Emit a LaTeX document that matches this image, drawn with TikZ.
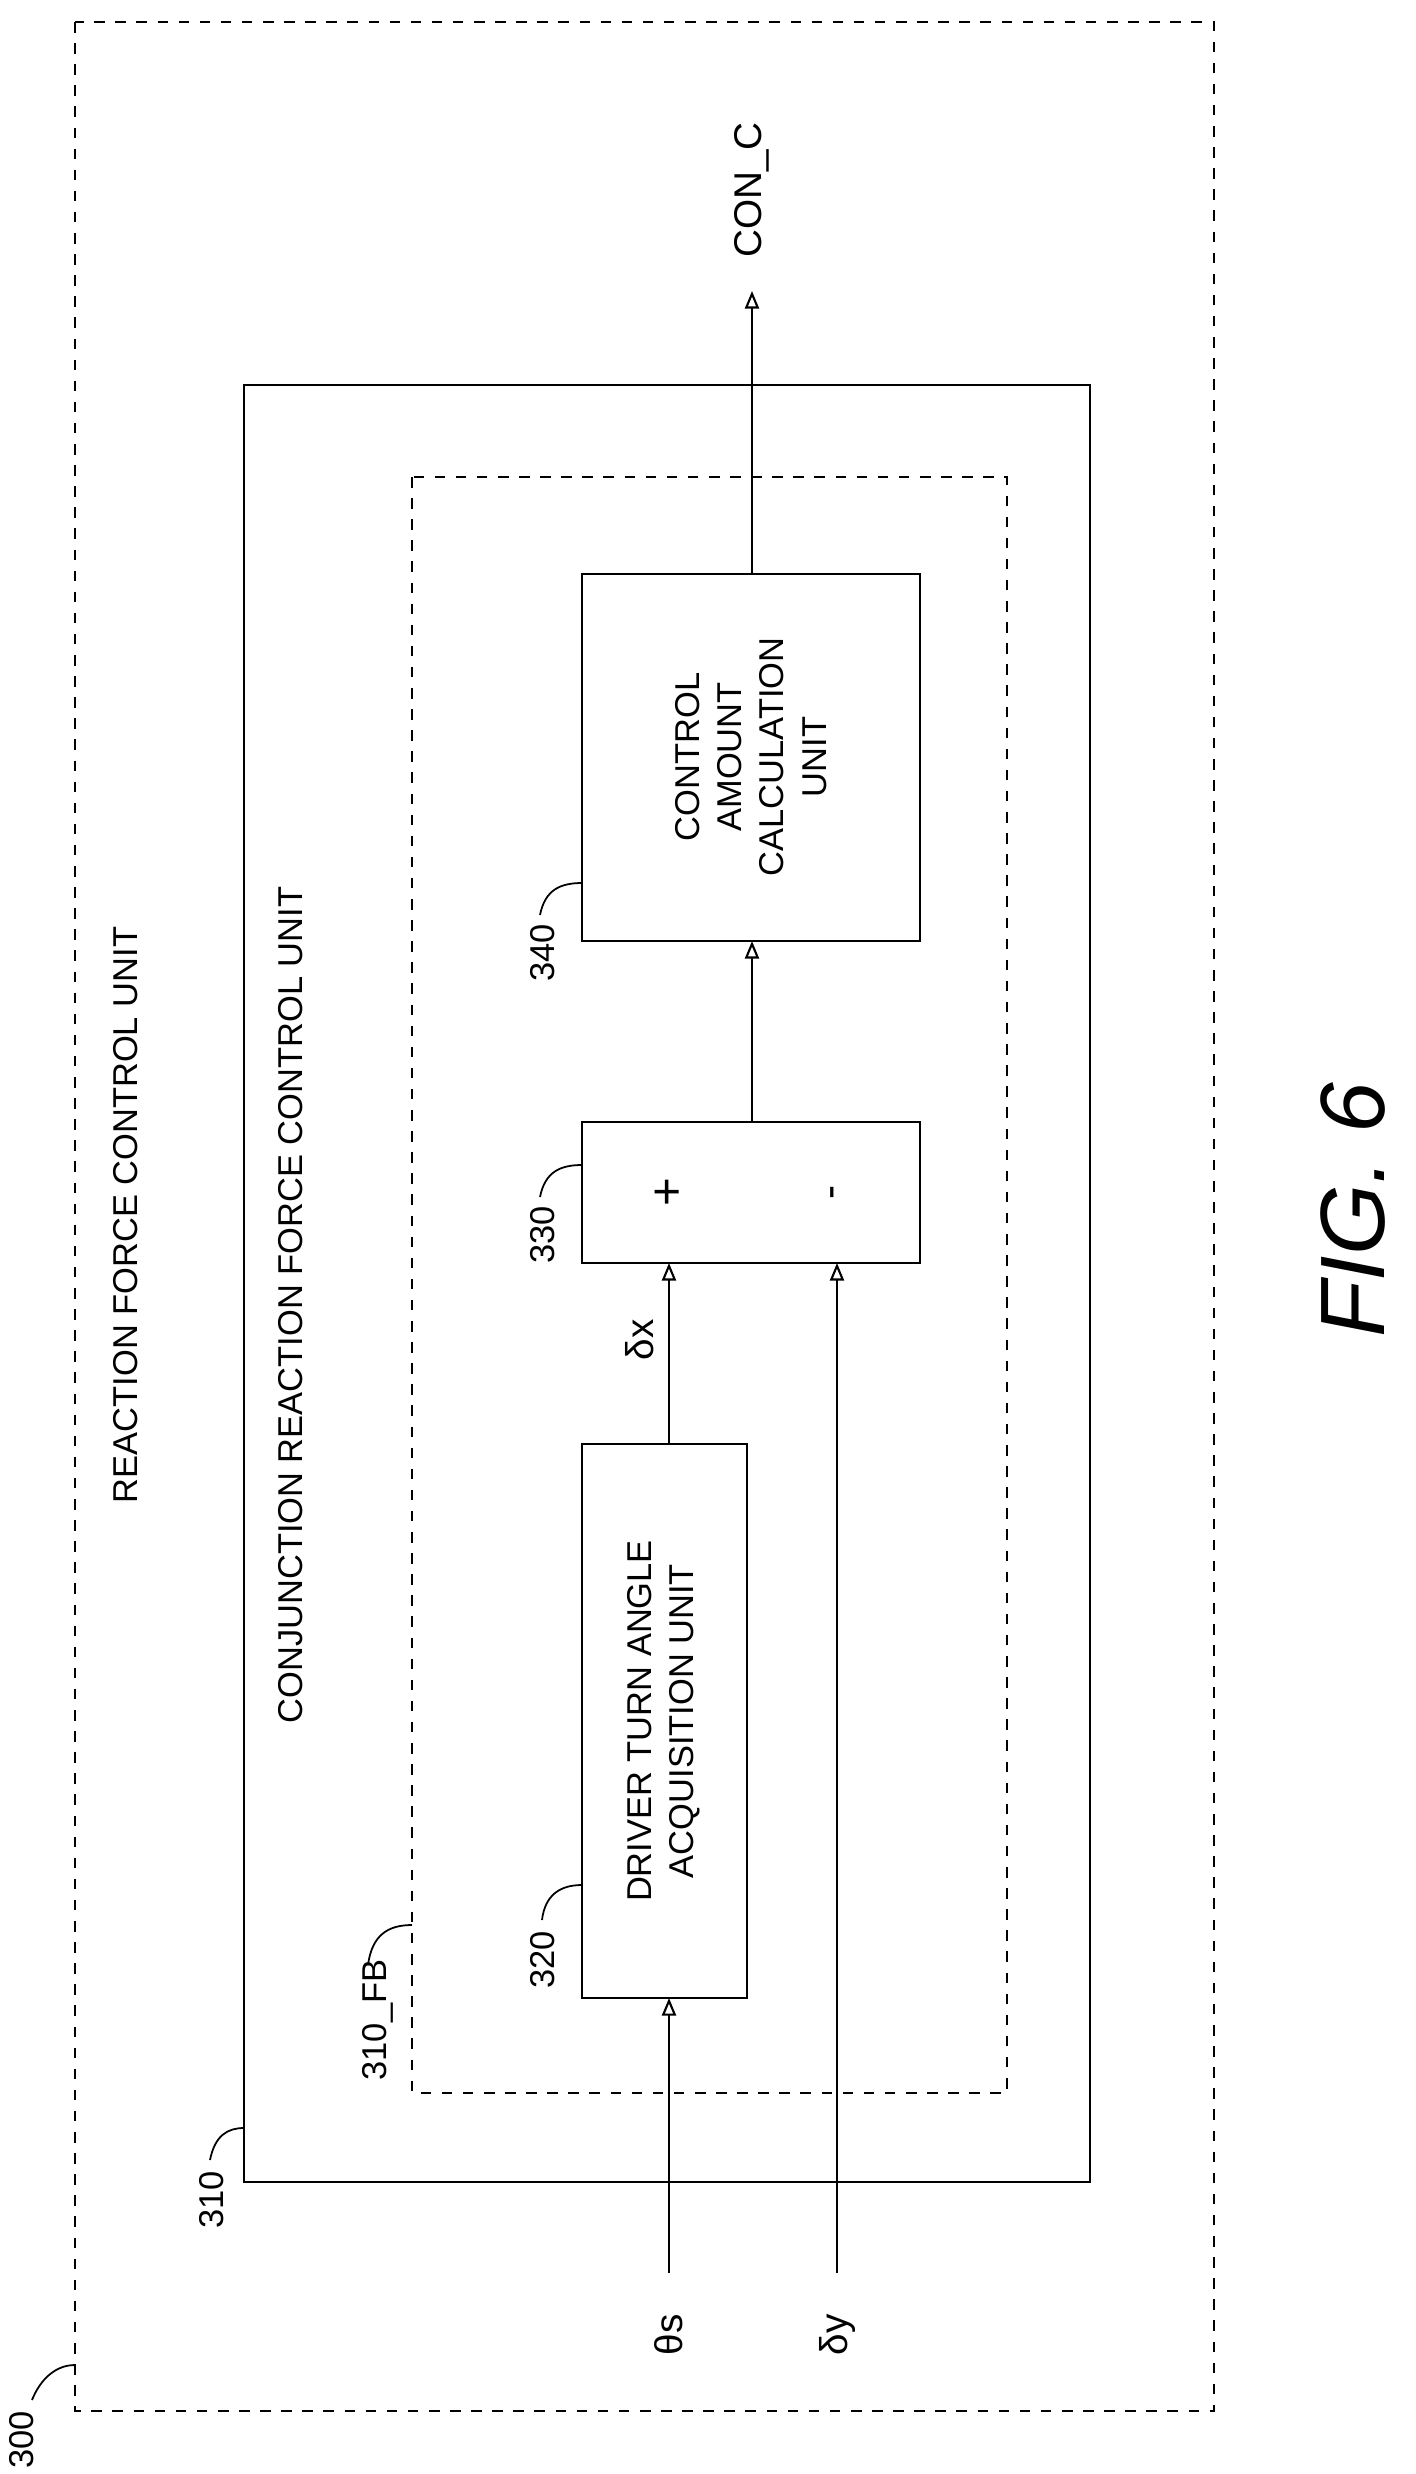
\documentclass[tikz,border=0pt]{standalone}
\usepackage{fontspec}
\setmainfont{Liberation Sans}
\usetikzlibrary{arrows.meta}
\begin{document}
\begin{tikzpicture}[x=0.01cm,y=-0.01cm,
    lbl/.style={rotate=90,font=\fontsize{9.8}{12}\selectfont,align=center},
    sym/.style={rotate=90,font=\fontsize{11}{11}\selectfont},
    blk/.style={draw,line width=0.6pt},
    dsh/.style={draw,line width=0.6pt,dash pattern=on 3pt off 3pt},
    sig/.style={line width=0.6pt,-{Triangle[open,length=5pt,width=4pt]}},
    lead/.style={line width=0.5pt}]
    \useasboundingbox (0,0) rectangle (1416,2474);

    % outer units
    \draw[dsh] (75,22) rectangle (1214,2411);
    \draw[blk] (244,385) rectangle (1090,2182);
    \draw[dsh] (412,477) rectangle (1007,2093);
    \node[lbl] (t300) at (126,1215) {REACTION FORCE CONTROL UNIT};
    \node[lbl] (t310) at (291,1305) {CONJUNCTION REACTION FORCE CONTROL UNIT};

    % blocks
    \draw[blk] (582,1444) rectangle (747,1998);
    \node[lbl] (b320) at (664,1721) {DRIVER TURN ANGLE\\ACQUISITION UNIT};
    \draw[blk] (582,1122) rectangle (920,1263);
    \node[rotate=90,font=\fontsize{14}{14}\selectfont] (plus) at (669,1192) {+};
    \node[rotate=90,font=\fontsize{12}{12}\selectfont] (minus) at (837,1192) {-};
    \draw[blk] (582,574) rectangle (920,941);
    \node[lbl] (b340) at (751,757) {CONTROL\\AMOUNT\\CALCULATION\\UNIT};

    % signals
    \coordinate (ths) at (669,2273);
    \coordinate (dy) at (837,2273);
    \coordinate (out) at (752,291);
    \node[sym] (lths) at (669,2335) {θs};
    \node[sym] (ldy) at (837,2335) {δy};
    \node[sym] (ldx) at (640,1340) {δx};
    \node[sym] (lout) at (752,190) {CON\_C};
    \draw[sig] (ths) -- (669,1998);
    \draw[sig] (dy) -- (837,1263);
    \draw[sig] (669,1444) -- (669,1263);
    \draw[sig] (752,1122) -- (752,941);
    \draw[sig] (752,574) -- (out);

    % reference labels
    \node[lbl] (n300) at (22,2440) {300};
    \draw[lead] (32,2400) .. controls (40,2380) and (55,2365) .. (75,2365);
    \node[lbl] (n310) at (212,2200) {310};
    \draw[lead] (210,2160) .. controls (215,2135) and (228,2128) .. (244,2128);
    \node[lbl] (n310fb) at (378,2020) {310\_FB};
    \node[lbl] (n320) at (543,1960) {320};
    \draw[lead] (542,1920) .. controls (545,1895) and (560,1885) .. (582,1885);
    \draw[lead] (368,1965) .. controls (372,1935) and (388,1925) .. (412,1925);
    \node[lbl] (n330) at (543,1235) {330};
    \draw[lead] (540,1197) .. controls (545,1172) and (560,1165) .. (582,1165);
    \node[lbl] (n340) at (543,953) {340};
    \draw[lead] (540,915) .. controls (545,890) and (560,883) .. (582,883);

    \node[rotate=90,font=\fontsize{26}{26}\selectfont\itshape] (fig) at (1353,1210) {FIG. 6};
\end{tikzpicture}
\end{document}
